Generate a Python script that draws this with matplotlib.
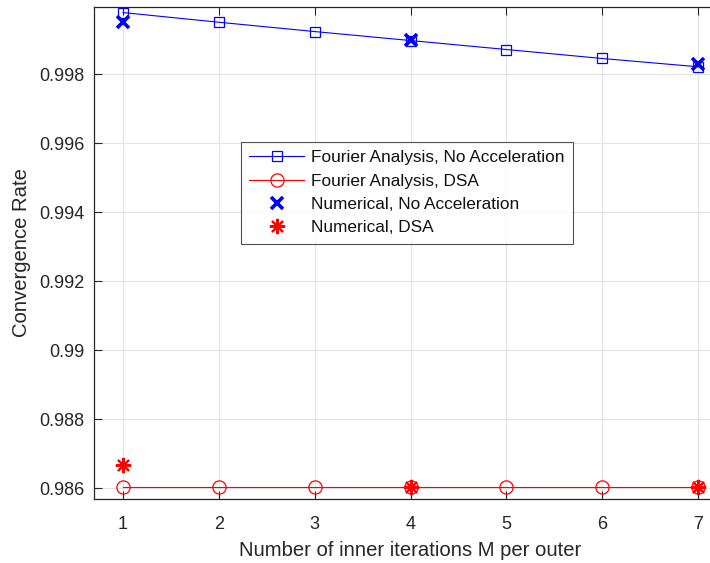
import matplotlib
matplotlib.use("Agg")
import matplotlib.pyplot as plt

plt.rcParams["font.family"] = ["Liberation Sans", "DejaVu Sans"]

# inner iterations per outer iteration
M = [1, 2, 3, 4, 5, 6, 7]
# Fourier analysis predictions
fourier_noacc = [0.99978, 0.99950, 0.99923, 0.99897, 0.99871, 0.99845, 0.99821]
fourier_dsa = [0.98605, 0.98605, 0.98605, 0.98605, 0.98605, 0.98605, 0.98605]
# numerical measurements (only run for a few M)
M_num = [1, 4, 7]
num_noacc = [0.99952, 0.99898, 0.99828]
num_dsa = [0.98667, 0.98604, 0.98605]

INK = "#262626"

fig = plt.figure(figsize=(7.1, 5.63), dpi=100)
ax = fig.add_axes([94.25 / 710, 63.7 / 563, 632.5 / 710, 492.6 / 563])

ax.plot(M, fourier_noacc, "-s", color="blue", lw=0.8, ms=7, mfc="none",
        mew=0.9, label="Fourier Analysis, No Acceleration")
ax.plot(M, fourier_dsa, "-o", color="red", lw=0.8, ms=9.5, mfc="none",
        mew=0.9, label="Fourier Analysis, DSA")
ax.plot(M_num, num_noacc, "x", color="blue", ms=9, mew=2.6,
        label="Numerical, No Acceleration")
ax.plot(M_num, num_dsa, color="red", ls="none", ms=11, mew=1.5,
        marker=(8, 2, 0), label="Numerical, DSA")

ax.set_xlim(0.7, 7.3)
ax.set_ylim(0.98568, 0.99995)
ax.set_xticks(M)
ax.set_yticks([0.986, 0.988, 0.99, 0.992, 0.994, 0.996, 0.998])
ax.set_yticklabels(["0.986", "0.988", "0.99", "0.992", "0.994", "0.996", "0.998"])

ax.grid(True, color="#e3e3e3", lw=0.8)
ax.set_axisbelow(True)
ax.tick_params(direction="in", length=6, width=0.8, colors=INK, labelsize=13,
               top=True, right=True)
ax.tick_params(axis="x", pad=12)
ax.tick_params(axis="y", pad=7)
for s in ax.spines.values():
    s.set_color(INK)
    s.set_linewidth(0.9)

ax.set_xlabel("Number of inner iterations M per outer", fontsize=14.6, color=INK,
              labelpad=6)
ax.set_ylabel("Convergence Rate", fontsize=14.6, color=INK, labelpad=6)

leg = ax.legend(loc="upper left", bbox_to_anchor=(241 / 710, 1 - 142 / 563),
                bbox_transform=fig.transFigure, fontsize=12.4, frameon=True,
                fancybox=False, edgecolor=INK, handlelength=3.2,
                borderpad=0.48, labelspacing=0.48, handletextpad=0.4,
                borderaxespad=0)
leg.get_frame().set_linewidth(0.8)
for t in leg.get_texts():
    t.set_color("#111111")

fig.savefig("out.png", dpi=100)
